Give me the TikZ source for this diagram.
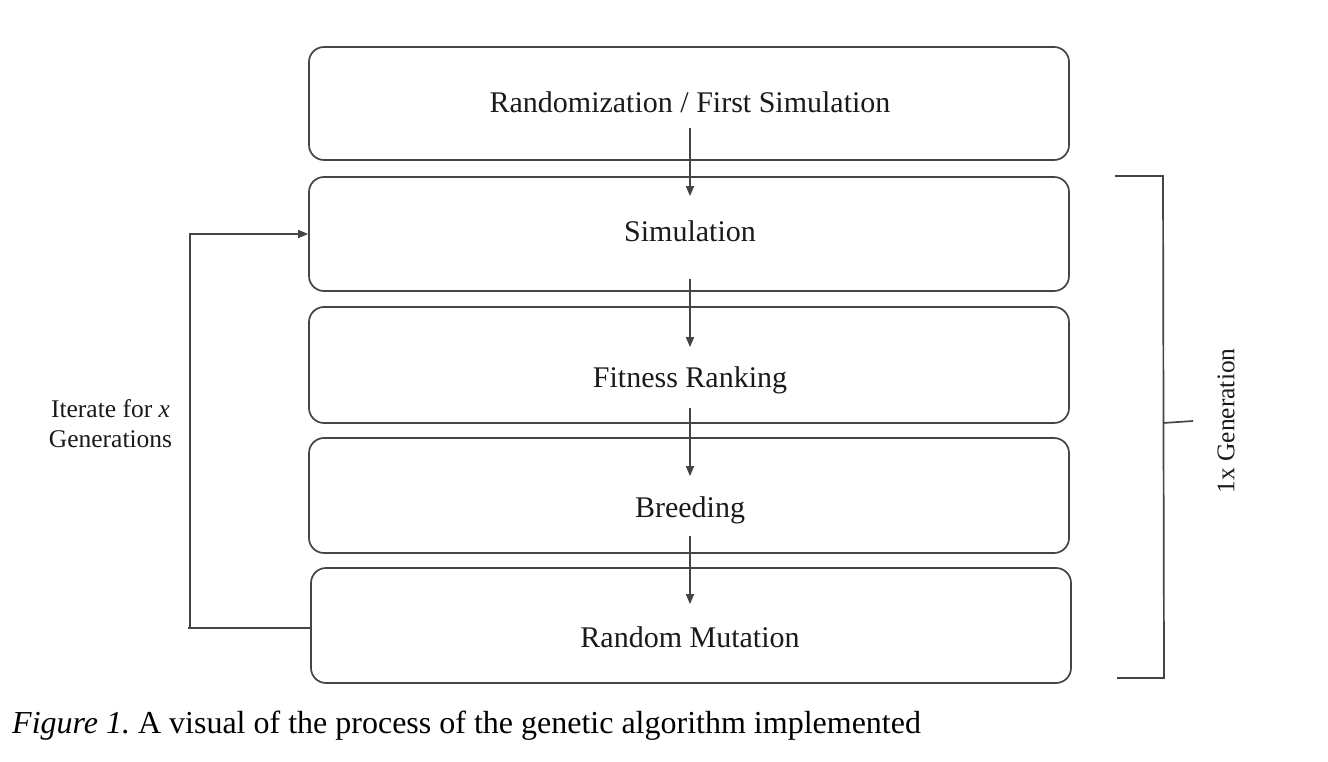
\documentclass[tikz,border=0pt]{standalone}
\usepackage{fontspec}
\setmainfont{Liberation Serif}
\usetikzlibrary{arrows.meta}
\definecolor{linec}{HTML}{454545}
\definecolor{textc}{HTML}{1A1A1A}
\frenchspacing
\begin{document}
\begin{tikzpicture}[x=1pt,y=-1pt,
  box/.style={draw=linec, line width=1.7pt, rounded corners=15pt, rectangle,
    minimum width=760pt, inner sep=0pt},
  boxtext/.style={anchor=base, inner sep=0pt, text=textc, font=\fontsize{30}{36}\selectfont},
  sidetext/.style={inner sep=0pt, text=textc, font=\fontsize{25.5}{30}\selectfont},
  arr/.style={draw=linec, line width=1.7pt, -{Triangle[length=10pt,width=8pt]}},
  ln/.style={draw=linec, line width=1.7pt}
]
\useasboundingbox (0,0) rectangle (1328,762);

% boxes
\node[box, minimum height=113pt] (b1) at (689,103.5) {};
\node[box, minimum height=114pt] (b2) at (689,234) {};
\node[box, minimum height=116pt] (b3) at (689,365) {};
\node[box, minimum height=115pt] (b4) at (689,495.5) {};
\node[box, minimum height=115pt] (b5) at (691,625.5) {};

% box texts
\node[boxtext] (t1) at (690,113) {Randomization / First Simulation};
\node[boxtext] (t2) at (690,242) {Simulation};
\node[boxtext] (t3) at (690,387) {Fitness Ranking};
\node[boxtext] (t4) at (690,517) {Breeding};
\node[boxtext] (t5) at (690,647) {Random Mutation};

% vertical arrows
\draw[arr] ([xshift=1pt,yshift=33pt]b1.south) -- ([xshift=1pt,yshift=-20pt]b2.north);
\draw[arr] ([xshift=1pt,yshift=13pt]b2.south) -- ([xshift=1pt,yshift=-41pt]b3.north);
\draw[arr] ([xshift=1pt,yshift=16pt]b3.south) -- ([xshift=1pt,yshift=-39pt]b4.north);
\draw[arr] ([xshift=1pt,yshift=18pt]b4.south) -- ([xshift=-1pt,yshift=-37pt]b5.north);

% feedback loop
\coordinate (lc) at (188,628);
\draw[arr] ([yshift=-2.5pt]b5.west) -- (lc) -- ++(2,0) |- (b2.west);
\node[sidetext, align=center] (it) at (110.5,424) {Iterate for \textit{x}\\Generations};

% bracket
\coordinate (bt) at (1115,176);
\coordinate (bb) at (1117,678);
\coordinate (bm) at (1163,423);
\draw[ln] (bt) -- (1163,176) -- (1164,678) -- (bb);
\draw[ln] (bm) -- (1193,421);
\node[sidetext, rotate=90] (gen) at (1226,421) {1x Generation};

% caption
\node[anchor=base west, inner sep=0pt, font=\fontsize{32}{38}\selectfont] (cap) at (12,733)
  {\textit{Figure 1.} A visual of the process of the genetic algorithm implemented};
\end{tikzpicture}
\end{document}
